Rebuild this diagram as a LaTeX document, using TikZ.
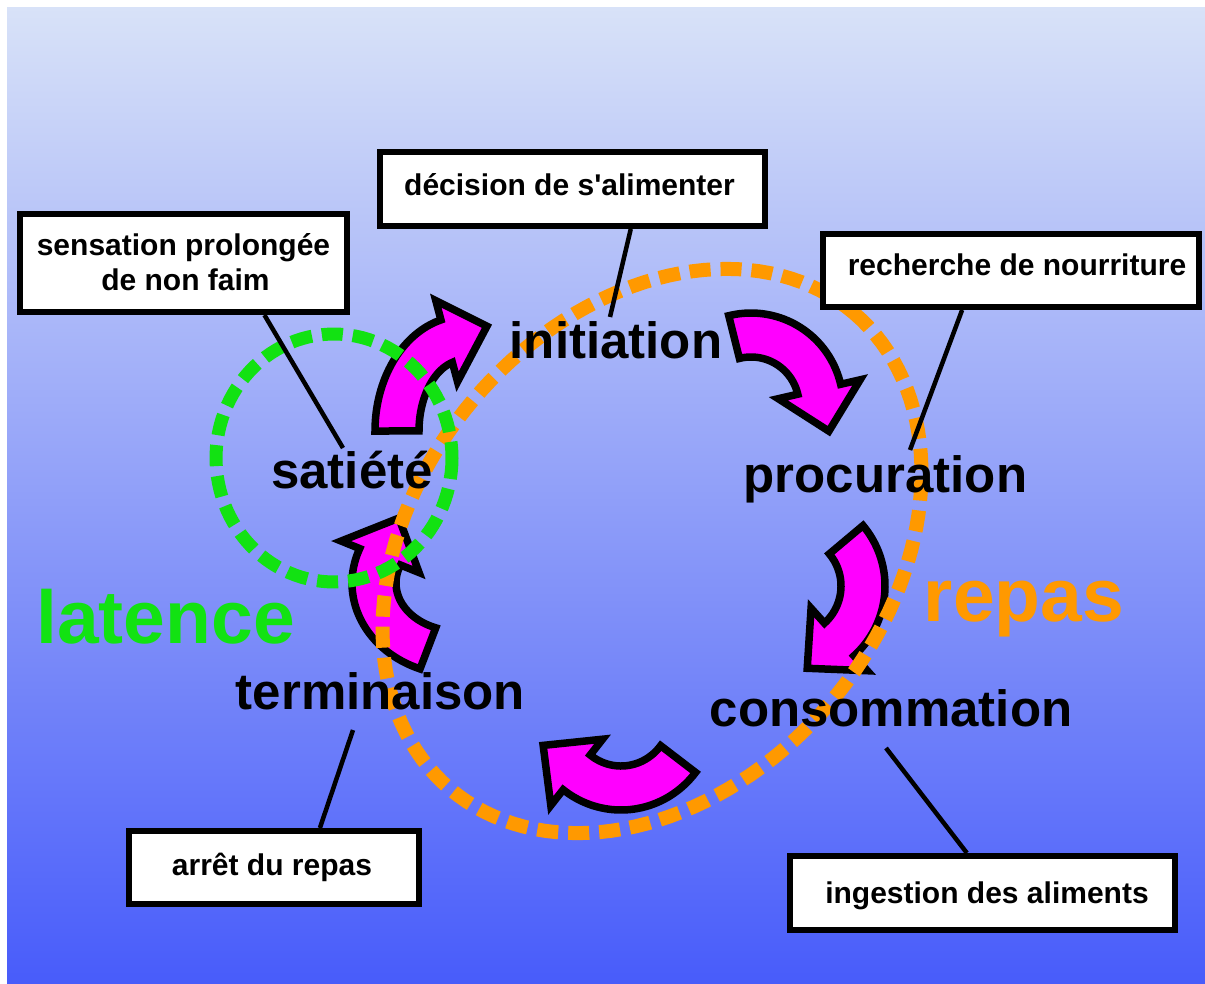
\documentclass[tikz,border=0pt]{standalone}
\usepackage{fontspec}
\newfontfamily\lsans{Liberation Sans}
\usetikzlibrary{calc}
\definecolor{bgtop}{RGB}{216,226,248}
\definecolor{bgbot}{RGB}{72,92,250}
\definecolor{mag}{RGB}{255,0,255}
\definecolor{grn}{RGB}{18,226,18}
\definecolor{org}{RGB}{255,153,0}
\tikzset{
 marrow/.style={fill=mag, draw=black, line width=7.5pt, line join=miter, miter limit=10},
 greenloop/.style={draw=grn, line width=13pt, dash pattern=on 21pt off 10pt},
 orangeloop/.style={draw=org, line width=14pt, dash pattern=on 21pt off 10pt},
 stage/.style={font=\lsans\fontsize{51}{56}\selectfont\bfseries, text=black, inner sep=0pt, anchor=base},
 bigword/.style={font=\lsans\fontsize{75}{80}\selectfont\bfseries, inner sep=0pt, anchor=base},
 notebox/.style={draw=black, fill=white, line width=6pt, inner sep=0pt},
 notetext/.style={font=\lsans\fontsize{30}{36}\selectfont\bfseries, inner sep=0pt, anchor=base},
 conn/.style={draw=black, line width=4.5pt},
}
\def\aw{22}
\def\ah{42}
\def\al{43}
% curved block arrow along an ellipse arc: cx cy rx ry start end (angles increase clockwise on screen)
\newcommand\magarrow[6]{%
 \pgfmathsetmacro\Nn{sqrt((#3*sin(#6))^2+(#4*cos(#6))^2)}%
 \filldraw[marrow]
   plot[domain=0:1,samples=40,variable=\u] ({#1+(#3+\aw)*cos(#5+(#6-#5)*\u)},{#2+(#4+\aw)*sin(#5+(#6-#5)*\u)})
   -- ({#1+(#3+\ah)*cos(#6)},{#2+(#4+\ah)*sin(#6)})
   -- ({#1+#3*cos(#6)-\al*#3*sin(#6)/\Nn},{#2+#4*sin(#6)+\al*#4*cos(#6)/\Nn})
   -- ({#1+(#3-\ah)*cos(#6)},{#2+(#4-\ah)*sin(#6)})
   -- plot[domain=0:1,samples=40,variable=\u] ({#1+(#3-\aw)*cos(#6+(#5-#6)*\u)},{#2+(#4-\aw)*sin(#6+(#5-#6)*\u)})
   -- cycle;
}
\begin{document}
\begin{tikzpicture}[x=1pt,y=-1pt]
\useasboundingbox (0,0) rectangle (1205,983);
\shade[top color=bgtop, bottom color=bgbot] (7,7) rectangle (1205,983);

% magenta curved arrows
\magarrow{464}{431}{67}{93}{180}{255}
\magarrow{751}{405}{70}{70}{256}{347}
\magarrow{791}{586}{72}{72}{320}{408}
\magarrow{621}{714}{72}{74}{37.5}{128}
\magarrow{458}{583}{84}{70}{111}{202}

% loops
\draw[orangeloop] plot[domain=0:360,samples=145,variable=\t]
  ({652+312*cos(\t)*0.647+234*sin(\t)*0.763},{551-312*cos(\t)*0.763+234*sin(\t)*0.647}) -- cycle;
\draw[greenloop] plot[domain=0:360,samples=110,variable=\t]
  ({334+118*cos(\t)},{458+124*sin(\t)}) -- cycle;

% boxes
\node[notebox, minimum width=327pt, minimum height=98pt] (box1) at (183.5,263) {};
\node[notebox, minimum width=385pt, minimum height=74pt] (box2) at (572.5,189) {};
\node[notebox, minimum width=376pt, minimum height=73pt] (box3) at (1011,270.5) {};
\node[notebox, minimum width=290pt, minimum height=73pt] (box4) at (274,867.5) {};
\node[notebox, minimum width=385pt, minimum height=74pt] (box5) at (982.5,893) {};

\node[notetext] (t1a) at (183.5,255) {sensation prolongée};
\node[notetext] (t1b) at (185.5,290) {de non faim};
\node[notetext] (t2) at (569.5,195) {décision de s'alimenter};
\node[notetext] (t3) at (1017,275) {recherche de nourriture};
\node[notetext] (t4) at (272,875) {arrêt du repas};
\node[notetext] (t5) at (987,903) {ingestion des aliments};

% connector ends
\coordinate (e1) at (343,448);
\coordinate (e2) at (610,317);
\coordinate (e3) at (910,450);
\coordinate (e4) at (353,730);
\coordinate (e5) at (886,748);
\draw[conn] ($(box1.south west)!0.743!(box1.south east)$) -- (e1);
\draw[conn] ($(box2.south west)!0.649!(box2.south east)$) -- (e2);
\draw[conn] ($(box3.south west)!0.372!(box3.south east)$) -- (e3);
\draw[conn] ($(box4.north west)!0.655!(box4.north east)$) -- (e4);
\draw[conn] ($(box5.north west)!0.46!(box5.north east)$) -- (e5);

% stage labels
\node[stage] (sat) at (352,488) {satiété};
\node[stage] (ini) at (616,358) {initiation};
\node[stage] (pro) at (885.5,492) {procuration};
\node[stage] (con) at (891,726) {consommation};
\node[stage] (ter) at (380.5,709) {terminaison};
\node[bigword, text=grn] (lat) at (165.5,643) {latence};
\node[bigword, text=org] (rep) at (1024,621) {repas};
\end{tikzpicture}
\end{document}
